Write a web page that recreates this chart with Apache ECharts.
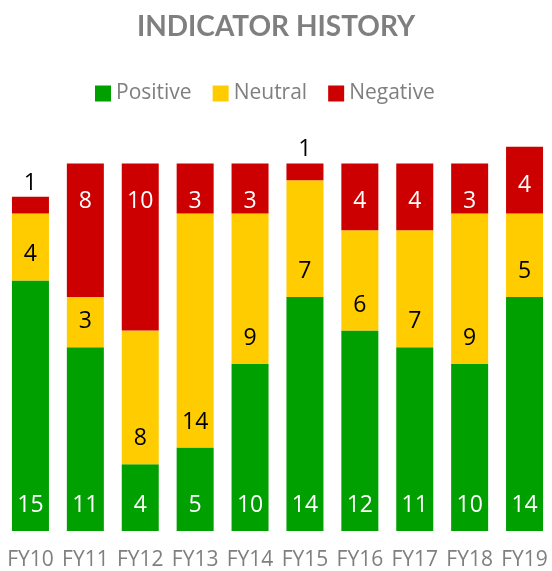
<!DOCTYPE html>
<html>
<head>
<meta charset="utf-8">
<script src="https://cdn.jsdelivr.net/npm/echarts@6/dist/echarts.min.js"></script>
<style>
  html, body { margin: 0; padding: 0; background: #fff; }
  #chart { width: 552px; height: 571px; }
</style>
</head>
<body>
<div id="chart"></div>
<script>
var years = ['FY10', 'FY11', 'FY12', 'FY13', 'FY14', 'FY15', 'FY16', 'FY17', 'FY18', 'FY19'];
var positive = [15, 11, 4, 5, 10, 14, 12, 11, 10, 14];
var neutral = [4, 3, 8, 14, 9, 7, 6, 7, 9, 5];
var negative = [1, 8, 10, 3, 3, 1, 4, 4, 3, 4];

var font = 'Open Sans';

var negData = negative.map(function (v) {
    // the tiny slivers carry their label above the bar
    if (v <= 1) {
        return { value: v, label: { position: 'top', color: '#000', distance: 2 } };
    }
    return v;
});

var myChart = echarts.init(document.getElementById('chart'));
myChart.setOption({
    animation: false,
    title: {
        text: 'INDICATOR HISTORY',
        left: 'center',
        top: 8,
        textStyle: { color: '#7f7f7f', fontSize: 28, fontWeight: 'bold', fontFamily: 'Lato' }
    },
    legend: {
        top: 78,
        left: 90,
        icon: 'rect',
        itemWidth: 16,
        itemHeight: 16,
        itemGap: 21,
        textStyle: { color: '#7f7f7f', fontSize: 21, fontFamily: font }
    },
    grid: { left: 3, width: 551, top: 130, bottom: 39 },
    xAxis: {
        type: 'category',
        data: years,
        axisLine: { show: false },
        axisTick: { show: false },
        axisLabel: { interval: 0, color: '#7f7f7f', fontSize: 21, fontFamily: font, margin: 19 }
    },
    yAxis: {
        type: 'value',
        min: 0,
        max: 24,
        show: false,
        splitLine: { show: false }
    },
    series: [{
        name: 'Positive',
        type: 'bar',
        stack: 'total',
        barWidth: 37,
        itemStyle: { color: '#00a000' },
        label: { show: true, position: 'insideBottom', distance: 14, color: '#fff', fontSize: 23, fontFamily: font },
        data: positive
    }, {
        name: 'Neutral',
        type: 'bar',
        stack: 'total',
        barWidth: 37,
        itemStyle: { color: '#ffcc00' },
        label: { show: true, position: 'insideBottom', distance: 14, color: '#000', fontSize: 23, fontFamily: font },
        data: neutral
    }, {
        name: 'Negative',
        type: 'bar',
        stack: 'total',
        barWidth: 37,
        itemStyle: { color: '#cc0000' },
        label: { show: true, position: 'insideTop', distance: 27, color: '#fff', fontSize: 23, fontFamily: font },
        data: negData
    }]
});
</script>
</body>
</html>
